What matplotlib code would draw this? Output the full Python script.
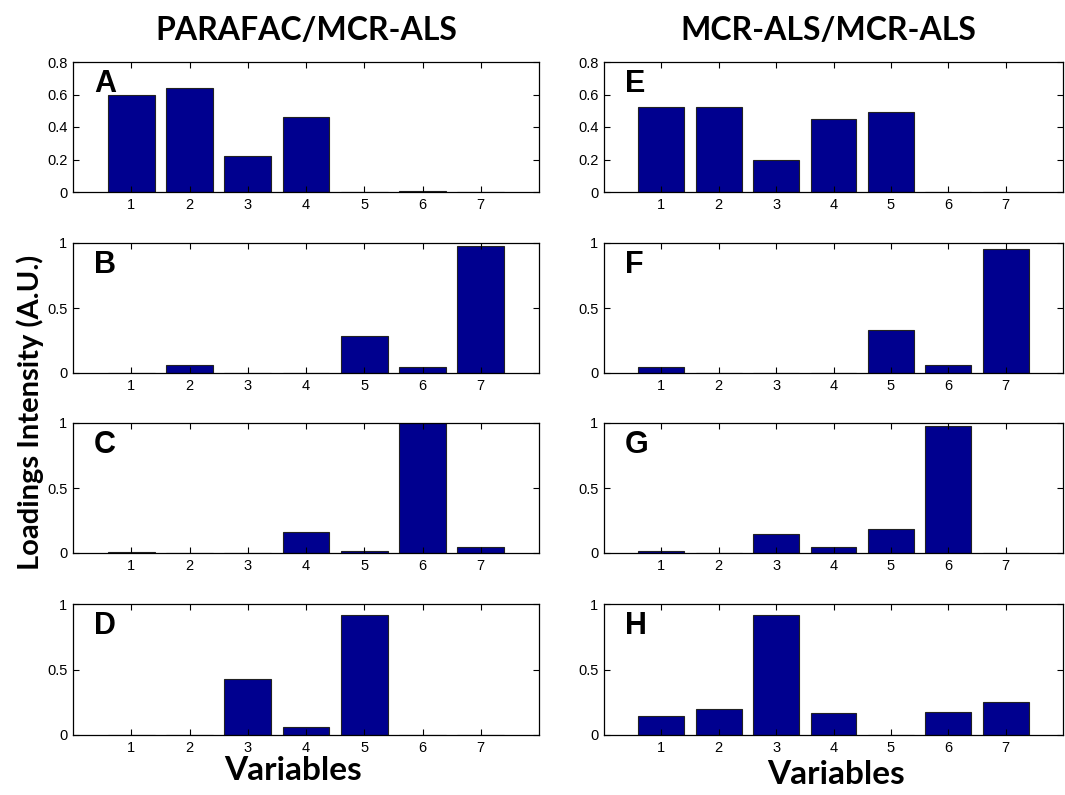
import numpy as np
import matplotlib
matplotlib.use("Agg")
from matplotlib import pyplot as plt

variables = [1, 2, 3, 4, 5, 6, 7]
A = [0.60, 0.64, 0.22, 0.46, 0.0, 0.005, 0.0]
B = [0.0, 0.06, 0.0, 0.0, 0.283, 0.044, 0.974]
C = [0.005, 0.0, 0.0, 0.164, 0.018, 1.0, 0.046]
D = [0.0, 0.0, 0.426, 0.064, 0.916, 0.0, 0.0]
E = [0.525, 0.525, 0.197, 0.449, 0.49, 0.0, 0.0]
F = [0.044, 0.0, 0.0, 0.0, 0.327, 0.06, 0.956]
G = [0.018, 0.0, 0.144, 0.046, 0.185, 0.98, 0.0]
H = [0.148, 0.199, 0.916, 0.166, 0.0, 0.179, 0.253]

letters = ["A", "B", "C", "D", "E", "F", "G", "H"]
panels = [A, B, C, D, E, F, G, H]
titles = ["PARAFAC/MCR-ALS", "MCR-ALS/MCR-ALS"]

W, Hh = 1065, 795
fig = plt.figure(figsize=(W / 100, Hh / 100), dpi=100)

# pixel boxes: left, right / top, bottom
cols = [(73, 539), (604, 1063)]
rows = [(62, 192), (243, 373), (423, 553), (604, 735)]

for k in range(8):
    c = k // 4
    r = k % 4
    x0, x1 = cols[c]
    y0, y1 = rows[r]
    ax = fig.add_axes([x0 / W, 1 - y1 / Hh, (x1 - x0) / W, (y1 - y0) / Hh])
    ax.bar(variables, panels[k], width=0.8, color="#00008F", edgecolor="#222222", linewidth=0.8)
    ax.set_xlim(0, 8)
    ax.set_xticks(variables)
    if r == 0:
        ax.set_ylim(0, 0.8)
        ax.set_yticks([0, 0.2, 0.4, 0.6, 0.8])
        ax.set_yticklabels(["0", "0.2", "0.4", "0.6", "0.8"])
    else:
        ax.set_ylim(0, 1)
        ax.set_yticks([0, 0.5, 1])
        ax.set_yticklabels(["0", "0.5", "1"])
    ax.tick_params(direction="in", top=True, right=True, labelsize=10.5, length=4, width=0.8, pad=4)
    for lb in ax.get_xticklabels() + ax.get_yticklabels():
        lb.set_family("Liberation Sans")
    for s in ax.spines.values():
        s.set_linewidth(0.9)
    ax.text(0.045, 0.83, letters[k], transform=ax.transAxes, fontsize=22,
            fontweight="bold", family="Liberation Sans", va="center", ha="left")

tfont = "Lato"
fig.text((73 + 539) / 2 / W, 1 - 30 / Hh, titles[0], fontsize=23, fontweight="bold",
         family=tfont, ha="center", va="center")
fig.text((604 + 1063) / 2 / W - 0.005, 1 - 30 / Hh, titles[1], fontsize=23, fontweight="bold",
         family=tfont, ha="center", va="center")
fig.text(30 / W, 1 - 412 / Hh, "Loadings Intensity (A.U.)", fontsize=21, fontweight="bold",
         family=tfont, rotation=90, ha="center", va="center")
fig.text(293 / W, 1 - 771 / Hh, "Variables", fontsize=24, fontweight="bold",
         family=tfont, ha="center", va="center")
fig.text(836 / W, 1 - 774 / Hh, "Variables", fontsize=24, fontweight="bold",
         family=tfont, ha="center", va="center")

fig.savefig("out.png", dpi=100)
